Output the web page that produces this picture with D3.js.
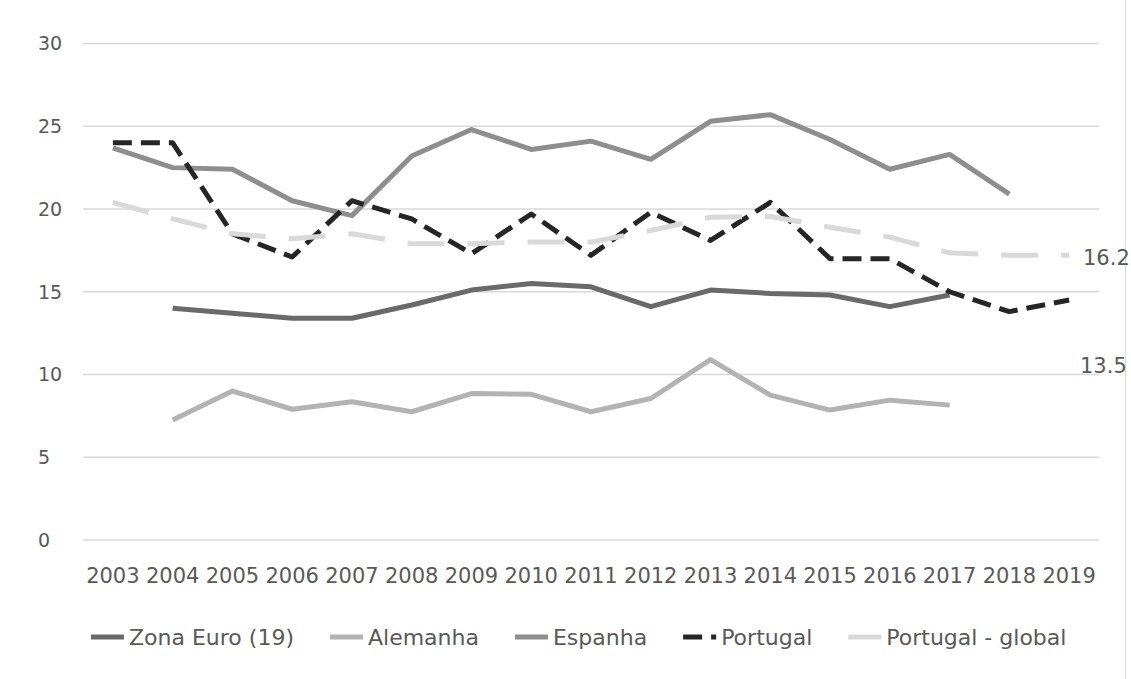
<!DOCTYPE html>
<html>
<head>
<meta charset="utf-8">
<script src="https://cdn.jsdelivr.net/npm/d3@7"></script>
<style>
  body { margin: 0; background: #fff; }
  svg text { font-family: "DejaVu Sans", sans-serif; fill: #595959; }
</style>
</head>
<body>
<div id="chart"></div>
<script>
// years on the category axis
var years = ["2003","2004","2005","2006","2007","2008","2009","2010","2011","2012","2013","2014","2015","2016","2017","2018","2019"];
var yTicks = [0, 5, 10, 15, 20, 25, 30];

// series values (null = no data)
var zonaEuro = [null, 14.0, 13.7, 13.4, 13.4, 14.2, 15.1, 15.5, 15.3, 14.1, 15.1, 14.9, 14.8, 14.1, 14.8, null, null];
var alemanha = [null, 7.25, 9.0, 7.9, 8.35, 7.75, 8.85, 8.8, 7.75, 8.55, 10.9, 8.75, 7.85, 8.45, 8.15, null, null];
var espanha  = [23.7, 22.5, 22.4, 20.5, 19.6, 23.2, 24.8, 23.6, 24.1, 23.0, 25.3, 25.7, 24.2, 22.4, 23.3, 20.9, null];
var portugal = [24.0, 24.0, 18.5, 17.1, 20.5, 19.4, 17.3, 19.7, 17.2, 19.8, 18.1, 20.4, 17.0, 17.0, 15.0, 13.8, 14.5];
var portugalGlobal = [20.4, 19.4, 18.5, 18.2, 18.5, 17.9, 17.9, 18.0, 18.0, 18.7, 19.5, 19.55, 18.9, 18.3, 17.35, 17.2, 17.2];

// free text labels at the right edge
var notes = [{ text: "16.2", x: 1083, y: 265 }, { text: "13.5", x: 1080, y: 373 }];

var series = [
  { name: "Zona Euro (19)", values: zonaEuro, color: "#6a6a6a", dash: null },
  { name: "Alemanha", values: alemanha, color: "#b3b3b3", dash: null },
  { name: "Espanha", values: espanha, color: "#8e8e8e", dash: null },
  { name: "Portugal", values: portugal, color: "#262626", dash: "19,9" },
  { name: "Portugal - global", values: portugalGlobal, color: "#d9d9d9", dash: "37,23" }
];

var W = 1131, H = 679;
var svg = d3.select("#chart").append("svg").attr("width", W).attr("height", H);

var x = d3.scaleBand().domain(years).range([83, 1099]);
var y = d3.scaleLinear().domain([0, 30]).range([540, 43.5]);

// chart border (right side visible)
svg.append("line").attr("x1", 1125.5).attr("x2", 1125.5).attr("y1", 0).attr("y2", H)
  .attr("stroke", "#d9d9d9").attr("stroke-width", 1);

// gridlines
svg.append("g").selectAll("line").data(yTicks).enter().append("line")
  .attr("x1", 83).attr("x2", 1099)
  .attr("y1", function (d) { return y(d); }).attr("y2", function (d) { return y(d); })
  .attr("stroke", "#d9d9d9").attr("stroke-width", 1.5);

// y labels
svg.append("g").selectAll("text").data(yTicks).enter().append("text")
  .attr("x", 38).attr("y", function (d) { return y(d); })
  .attr("dy", "0.36em").style("font-size", "19px")
  .text(function (d) { return d; });

// x labels
svg.append("g").selectAll("text").data(years).enter().append("text")
  .attr("x", function (d) { return x(d) + x.bandwidth() / 2; })
  .attr("y", 583).attr("text-anchor", "middle").style("font-size", "21px")
  .text(function (d) { return d; });

// lines
var line = d3.line()
  .defined(function (d) { return d.v != null; })
  .x(function (d) { return x(d.year) + x.bandwidth() / 2; })
  .y(function (d) { return y(d.v); });

series.forEach(function (s) {
  var pts = years.map(function (yr, i) { return { year: yr, v: s.values[i] }; });
  svg.append("path").datum(pts)
    .attr("d", line)
    .attr("fill", "none")
    .attr("stroke", s.color)
    .attr("stroke-width", 5)
    .attr("stroke-linejoin", "round")
    .attr("stroke-dasharray", s.dash);
});

// notes
svg.append("g").selectAll("text").data(notes).enter().append("text")
  .attr("x", function (d) { return d.x; }).attr("y", function (d) { return d.y; })
  .style("font-size", "21px")
  .text(function (d) { return d.text; });

// legend
var lg = svg.append("g");
var cx = 91;
series.forEach(function (s) {
  var sw = 33;
  lg.append("line").attr("x1", cx).attr("x2", cx + sw).attr("y1", 637).attr("y2", 637)
    .attr("stroke", s.color).attr("stroke-width", 5).attr("stroke-dasharray", s.dash);
  var t = lg.append("text").attr("x", cx + sw + 5).attr("y", 645)
    .style("font-size", "22px").text(s.name);
  cx = cx + sw + 5 + t.node().getComputedTextLength() + 36;
});
</script>
</body>
</html>
